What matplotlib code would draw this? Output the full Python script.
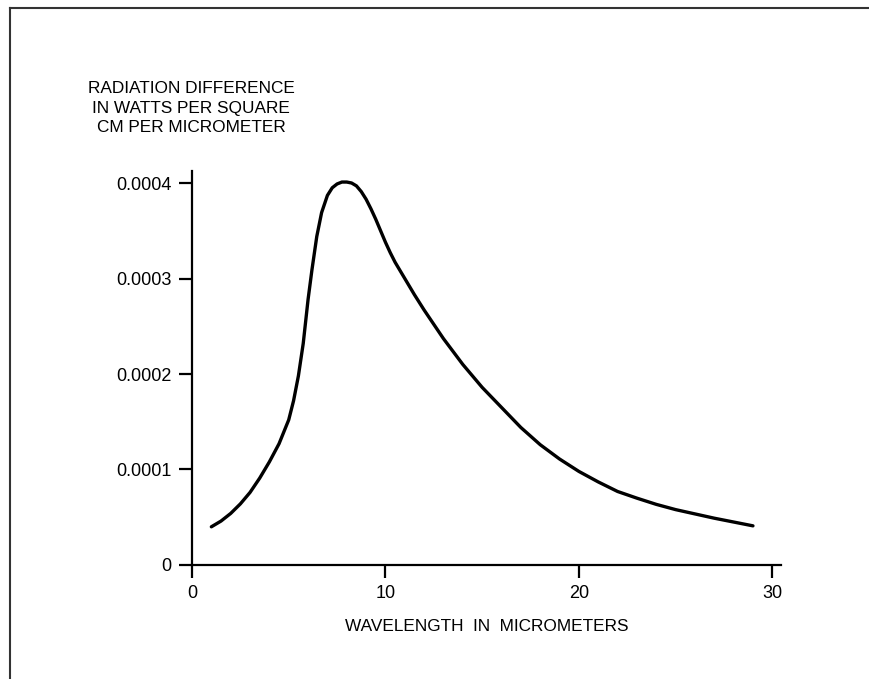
import matplotlib
matplotlib.use("Agg")
import matplotlib.pyplot as plt
from matplotlib.lines import Line2D

plt.rcParams['font.family'] = ['Liberation Sans', 'DejaVu Sans']

# values (wavelength in micrometers, W/cm^2/um)
wavelength = [1, 1.5, 2, 2.5, 3, 3.5, 4, 4.5, 5, 5.25, 5.5, 5.75, 6, 6.2, 6.45,
              6.7, 7, 7.25, 7.5, 7.75, 8, 8.25, 8.5, 8.75, 9, 9.25, 9.5, 9.75,
              10, 10.25, 10.5, 11, 11.5, 12, 12.5, 13, 14, 15, 16, 17, 18, 19, 20,
              21, 22, 23, 24, 25, 26, 27, 28, 29]
radiation = [0.40, 0.46, 0.54, 0.64, 0.76, 0.91, 1.08, 1.27, 1.52, 1.72, 1.98,
             2.32, 2.78, 3.09, 3.44, 3.69, 3.87, 3.95, 3.99, 4.01, 4.01, 4.00,
             3.97, 3.91, 3.83, 3.73, 3.62, 3.50, 3.38, 3.27, 3.17, 3.00, 2.83,
             2.67, 2.52, 2.37, 2.10, 1.86, 1.65, 1.44, 1.26, 1.11, 0.98, 0.87,
             0.77, 0.70, 0.635, 0.58, 0.535, 0.49, 0.45, 0.41]
radiation = [v * 1e-4 for v in radiation]

xticks = [0, 10, 20, 30]
yticks = [0, 0.0001, 0.0002, 0.0003, 0.0004]
ytick_labels = ["0", "0.0001", "0.0002", "0.0003", "0.0004"]

fig = plt.figure(figsize=(8.7, 6.79), dpi=100)
ax = fig.add_axes([0.2207, 0.1679, 0.677, 0.5803])

ax.plot(wavelength, radiation, color="black", lw=2.4,
        solid_capstyle="round", solid_joinstyle="round")

ax.set_xlim(0, 30.45)
ax.set_ylim(0, 0.0004126)
ax.set_xticks(xticks)
ax.set_xticklabels([str(t) for t in xticks])
ax.set_yticks(yticks)
ax.set_yticklabels(ytick_labels)

for side in ("top", "right"):
    ax.spines[side].set_visible(False)
for side in ("left", "bottom"):
    ax.spines[side].set_linewidth(1.6)
ax.tick_params(direction="out", length=9.5, width=1.6, labelsize=13, pad=5)

ax.set_xlabel("WAVELENGTH  IN  MICROMETERS", fontsize=12.4, labelpad=12)
fig.text(0.2195, 1 - 108 / 679, "RADIATION DIFFERENCE\nIN WATTS PER SQUARE\nCM PER MICROMETER",
         ha="center", va="center", fontsize=12.4, linespacing=1.38)

# page frame
fig.add_artist(Line2D([10 / 870, 10 / 870], [0, 1 - 8 / 679], transform=fig.transFigure,
                      color="#333333", lw=1.5))
fig.add_artist(Line2D([10 / 870, 1], [1 - 8 / 679, 1 - 8 / 679], transform=fig.transFigure,
                      color="#333333", lw=1.5))

fig.savefig("out.png", dpi=100)
